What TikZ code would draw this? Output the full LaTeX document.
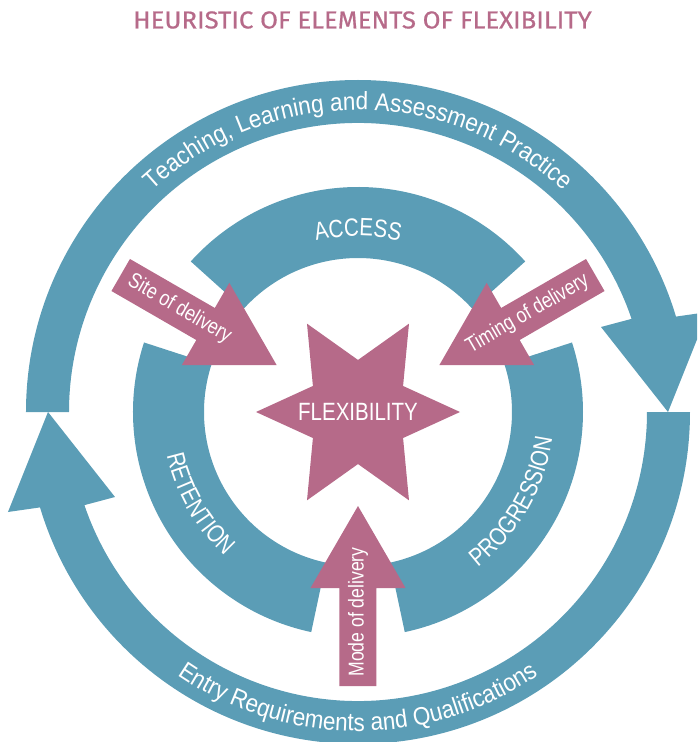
\documentclass[tikz,border=0pt]{standalone}
\usepackage{fontspec}
\setmainfont{Liberation Sans}
\newfontfamily\ringfont{Liberation Sans}[FakeStretch=0.9]
\newfontfamily\lblfont{Liberation Sans}[FakeStretch=0.82]
\newfontfamily\titlefont{Fira Sans}[FakeBold=0.6,FakeStretch=1.05]
\usetikzlibrary{shapes.geometric}
\usetikzlibrary{decorations.text}
\definecolor{ringteal}{RGB}{91,157,182}
\definecolor{flexpink}{RGB}{182,106,137}
\newcommand{\ringlbl}{\color{white}\ringfont\fontsize{25}{25}\selectfont}
\newcommand{\partlbl}{\color{white}\lblfont\fontsize{25}{25}\selectfont}
\tikzset{ring/.style={fill=ringteal},pinkarrow/.style={fill=flexpink},
  arrowlbl/.style={text=white,font=\lblfont\fontsize{21.5}{21.5}\selectfont}}

\begin{document}
\begin{tikzpicture}[x=1pt, y=1pt]
\useasboundingbox (-358,-330) rectangle (339,412);
\clip (-358,-330) rectangle (339,412);
\node (title) at (4.5,392) [text=flexpink, font=\titlefont\fontsize{24.5}{24.5}\selectfont] {HEURISTIC OF ELEMENTS OF FLEXIBILITY};

\fill[ring] (180:332) arc[start angle=180, end angle=16.7, radius=332] -- (350,100) -- (310,0) -- (243,85) -- (18.8:289) arc[start angle=18.8, end angle=180, radius=289] -- cycle;
\fill[ring] (0:332) arc[start angle=0, end angle=-163.3, radius=332] -- (-350,-100) -- (-310,0) -- (-243,-85) -- (198.8:289) arc[start angle=198.8, end angle=360, radius=289] -- cycle;

\fill[ring] (42:225) arc[start angle=42, end angle=138, radius=225] -- (138:154) arc[start angle=138, end angle=42, radius=154] -- cycle;
\fill[ring] (162:225) arc[start angle=162, end angle=258, radius=225] -- (258:154) arc[start angle=258, end angle=162, radius=154] -- cycle;
\fill[ring] (282:225) arc[start angle=282, end angle=378, radius=225] -- (378:154) arc[start angle=378, end angle=282, radius=154] -- cycle;

\path[decorate, decoration={text along path, text align=center, text={|\ringlbl|Teaching, Learning and Assessment Practice}}] (160:302) arc[start angle=160, end angle=20, radius=302];
\path[decorate, decoration={text along path, text align=center, text={|\ringlbl|Entry Requirements and Qualifications}}] (200:319) arc[start angle=200, end angle=340, radius=319];
\path[decorate, decoration={text along path, text align=center, text={|\partlbl|ACCESS}}] (150:176) arc[start angle=150, end angle=30, radius=176];
\path[decorate, decoration={text along path, text align=center, text={|\partlbl|RETENTION}}] (160:196) arc[start angle=160, end angle=260, radius=196];
\path[decorate, decoration={text along path, text align=center, text={|\partlbl|PROGRESSION}}] (280:196) arc[start angle=280, end angle=380, radius=196];

\fill[pinkarrow, rotate=150] (274,18.5) -- (176,18.5) -- (176,47.5) -- (94,0) -- (176,-47.5) -- (176,-18.5) -- (274,-18.5) -- cycle;
\fill[pinkarrow, rotate=30] (274,18.5) -- (176,18.5) -- (176,47.5) -- (94,0) -- (176,-47.5) -- (176,-18.5) -- (274,-18.5) -- cycle;
\fill[pinkarrow, rotate=270] (274,18.5) -- (176,18.5) -- (176,47.5) -- (94,0) -- (176,-47.5) -- (176,-18.5) -- (274,-18.5) -- cycle;

\node (site) at (150:206) [arrowlbl, rotate=-30] {Site of delivery};
\node (timing) at (30:196) [arrowlbl, rotate=30] {Timing of delivery};
\node (mode) at (270:200) [arrowlbl, rotate=90] {Mode of delivery};

\node (star) at (0,0) [star, star points=6, star point ratio=1.96, minimum size=204pt, inner sep=0pt, shape border rotate=30, fill=flexpink] {};
\node (flex) at (star.center) [text=white, font=\lblfont\fontsize{25}{25}\selectfont] {FLEXIBILITY};
\end{tikzpicture}
\end{document}
